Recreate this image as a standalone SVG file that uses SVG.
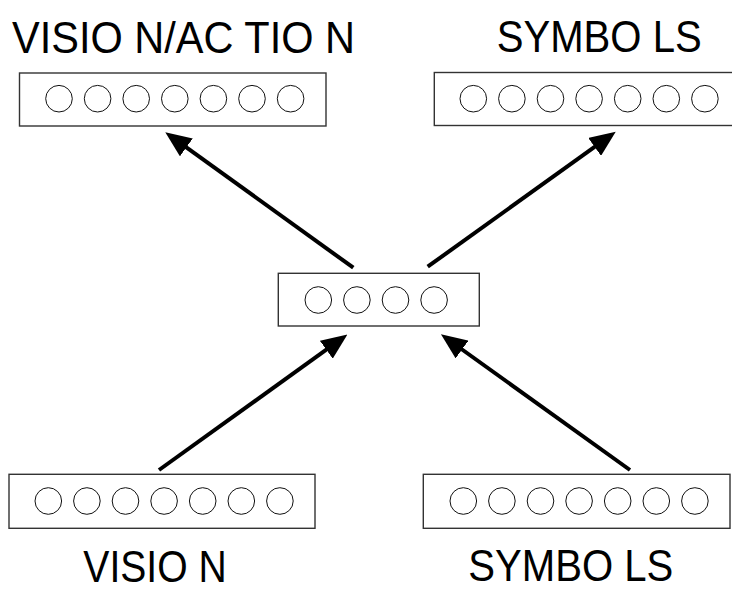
<svg xmlns="http://www.w3.org/2000/svg" width="732" height="590" viewBox="0 0 732 590">
<style>
.box{fill:#fff;stroke:#333;stroke-width:1.4}
.u{fill:#fff;stroke:#111;stroke-width:1}
.lbl{font-family:"Liberation Sans","Open Sans",sans-serif;font-size:44px;fill:#000}
.conn{stroke:#000;stroke-width:4;fill:none}
</style>
<defs>
<marker id="ah" markerUnits="userSpaceOnUse" viewBox="0 0 26 22" refX="6" refY="11" markerWidth="26" markerHeight="22" orient="auto">
<path d="M0,0 L26,11 L0,22 z" fill="#000"/>
</marker>
</defs>
<g id="conns">
<line class="conn" x1="353.3" y1="267.7" x2="181.5" y2="143.9" marker-end="url(#ah)"/>
<line class="conn" x1="427.7" y1="266.7" x2="599.5" y2="143.4" marker-end="url(#ah)"/>
<line class="conn" x1="159" y1="470" x2="331.2" y2="346.2" marker-end="url(#ah)"/>
<line class="conn" x1="630" y1="470" x2="457.2" y2="346.0" marker-end="url(#ah)"/>
</g>
<g id="vision_action">
<rect class="box" x="19.5" y="73" width="306.5" height="53"/>
<circle class="u" cx="59" cy="98.7" r="13.3"/>
<circle class="u" cx="97.6" cy="98.7" r="13.3"/>
<circle class="u" cx="136.2" cy="98.7" r="13.3"/>
<circle class="u" cx="174.8" cy="98.7" r="13.3"/>
<circle class="u" cx="213.4" cy="98.7" r="13.3"/>
<circle class="u" cx="252" cy="98.7" r="13.3"/>
<circle class="u" cx="290.6" cy="98.7" r="13.3"/>
<text class="lbl" x="12" y="53" textLength="343" lengthAdjust="spacingAndGlyphs">VISIO N/AC TIO N</text>
</g>
<g id="symbols_top">
<rect class="box" x="434.3" y="72.5" width="300" height="53"/>
<circle class="u" cx="473.3" cy="98.7" r="13.3"/>
<circle class="u" cx="511.9" cy="98.7" r="13.3"/>
<circle class="u" cx="550.5" cy="98.7" r="13.3"/>
<circle class="u" cx="589.1" cy="98.7" r="13.3"/>
<circle class="u" cx="627.7" cy="98.7" r="13.3"/>
<circle class="u" cx="666.3" cy="98.7" r="13.3"/>
<circle class="u" cx="704.9" cy="98.7" r="13.3"/>
<text class="lbl" x="496.7" y="52" textLength="205" lengthAdjust="spacingAndGlyphs">SYMBO LS</text>
</g>
<g id="hidden">
<rect class="box" x="278.3" y="273.3" width="201" height="52.7"/>
<circle class="u" cx="318.3" cy="300" r="13.3"/>
<circle class="u" cx="356.9" cy="300" r="13.3"/>
<circle class="u" cx="395.5" cy="300" r="13.3"/>
<circle class="u" cx="434.1" cy="300" r="13.3"/>
</g>
<g id="vision">
<rect class="box" x="9" y="474.3" width="306" height="54"/>
<circle class="u" cx="48.3" cy="501" r="13.3"/>
<circle class="u" cx="86.9" cy="501" r="13.3"/>
<circle class="u" cx="125.5" cy="501" r="13.3"/>
<circle class="u" cx="164.1" cy="501" r="13.3"/>
<circle class="u" cx="202.7" cy="501" r="13.3"/>
<circle class="u" cx="241.3" cy="501" r="13.3"/>
<circle class="u" cx="279.9" cy="501" r="13.3"/>
<text class="lbl" x="83.3" y="582" textLength="143.4" lengthAdjust="spacingAndGlyphs">VISIO N</text>
</g>
<g id="symbols_bottom">
<rect class="box" x="423.3" y="474.3" width="306.7" height="54"/>
<circle class="u" cx="463.3" cy="501" r="13.3"/>
<circle class="u" cx="501.9" cy="501" r="13.3"/>
<circle class="u" cx="540.5" cy="501" r="13.3"/>
<circle class="u" cx="579.1" cy="501" r="13.3"/>
<circle class="u" cx="617.7" cy="501" r="13.3"/>
<circle class="u" cx="656.3" cy="501" r="13.3"/>
<circle class="u" cx="694.9" cy="501" r="13.3"/>
<text class="lbl" x="468.3" y="581" textLength="205" lengthAdjust="spacingAndGlyphs">SYMBO LS</text>
</g>
</svg>
